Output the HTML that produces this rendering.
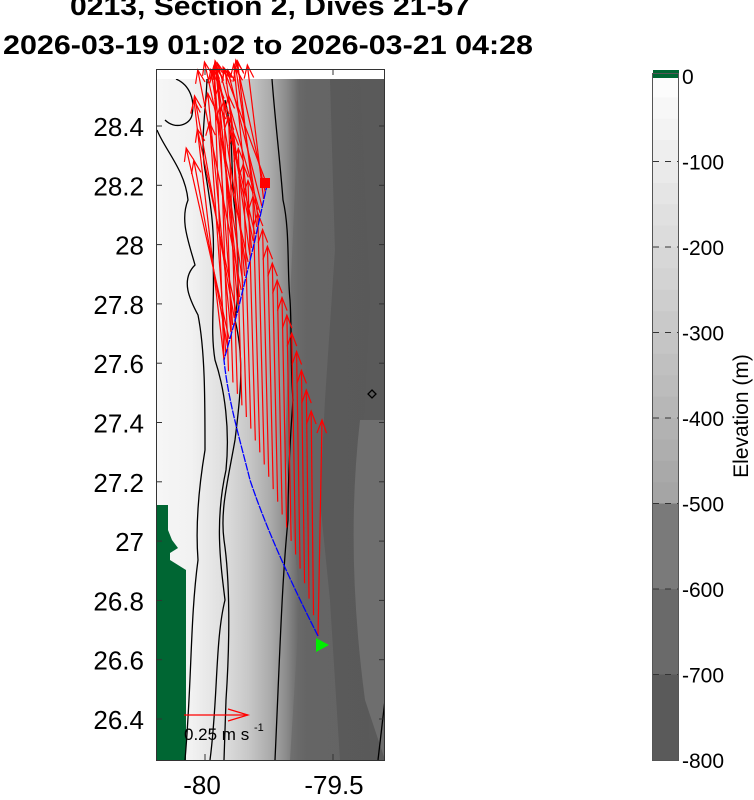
<!DOCTYPE html>
<html><head><style>
body{margin:0;background:#fff;}
svg{display:block;font-family:"Liberation Sans",sans-serif;}
</style></head><body>
<svg id="s" width="754" height="800" viewBox="0 0 754 800" xmlns="http://www.w3.org/2000/svg">
<defs>
<linearGradient id="bg" x1="0" x2="1" y1="0" y2="0">
<stop offset="0" stop-color="#f6f6f6"/>
<stop offset="0.15" stop-color="#f2f2f2"/>
<stop offset="0.28" stop-color="#e0e0e0"/>
<stop offset="0.4" stop-color="#c8c8c8"/>
<stop offset="0.5" stop-color="#aaaaaa"/>
<stop offset="0.57" stop-color="#8a8a8a"/>
<stop offset="0.62" stop-color="#6a6a6a"/>
<stop offset="0.66" stop-color="#5a5a5a"/>
<stop offset="1" stop-color="#595959"/>
</linearGradient>
<clipPath id="cp"><rect x="157" y="79" width="228" height="681"/></clipPath>
</defs>
<text x="270" y="15" font-size="27" font-weight="bold" text-anchor="middle" textLength="400" lengthAdjust="spacingAndGlyphs">0213, Section 2, Dives 21-57</text>
<text x="268" y="54" font-size="27" font-weight="bold" text-anchor="middle" textLength="530" lengthAdjust="spacingAndGlyphs">2026-03-19 01:02 to 2026-03-21 04:28</text>
<g clip-path="url(#cp)">
<rect x="157" y="79" width="228" height="681" fill="url(#bg)"/>
<path d="M300,79 L330,79 335,250 325,400 320,500 330,600 340,760 290,760 300,600 285,450 290,300 Z" fill="#6a6a6a" opacity="0.7"/>
<path d="M360,79 L385,79 385,760 370,760 360,500 370,300 Z" fill="#5a5a5a"/>
<path d="M360,420 Q345,550 365,700 L385,760 385,420 Z" fill="#6e6e6e"/>
<path d="M157,505 L168,505 168,530 172,540 178,548 170,553 170,560 186,570 186,760 157,760Z" fill="#006633"/>
<g fill="none" stroke="#000" stroke-width="1.3">
<path d="M176,79 C190,85 195,100 192,115 C190,125 175,130 165,120 157,110"/>
<path d="M157,130 C165,150 185,170 188,200 C180,220 188,240 195,265 C180,280 190,300 198,315 C205,350 205,400 205,450 C200,480 195,520 198,560 C190,620 192,680 185,760"/>
<path d="M207,79 C206,110 200,140 205,170 C210,200 215,230 213,260 C215,300 210,330 215,360 C225,390 230,430 226,470 C215,520 220,560 225,600 C215,640 218,700 210,760"/>
<path d="M225,100 C235,140 230,180 235,210 C238,250 240,290 235,320 C245,360 240,400 235,440 C228,480 220,510 224,540 C230,580 230,640 226,700 L224,760"/>
<path d="M272,79 C275,120 280,160 283,200 C290,230 287,270 290,300 C292,330 290,360 293,400 C290,440 288,480 288,520 C282,580 280,650 275,760"/>
<path d="M372,390 l4,4 -4,4 -4,-4 Z"/>
<path d="M385,700 L378,760"/>
</g>
</g>
<g id="vec" stroke="#f00" stroke-width="1.2" fill="none"></g>
<path d="M318,636 C300,600 270,540 250,480 C240,440 228,400 224,360 L238,310 L255,240 L267,185" stroke="#00f" stroke-width="1.3" fill="none" stroke-dasharray="8,1"/>
<rect x="260" y="178" width="10" height="10" fill="#f00"/>
<polygon points="316,638 316,652 329,645" fill="#00ee00"/>
<line x1="184" y1="715" x2="248" y2="715" stroke="#f00" stroke-width="1.2"/>
<path d="M228,709 L248,715 228,721" stroke="#f00" fill="none" stroke-width="1.2"/>
<text x="184" y="740" font-size="17">0.25 m s</text>
<text x="254" y="731" font-size="11">-1</text>
<rect x="156.5" y="69.5" width="228" height="691" fill="none" stroke="#333" stroke-width="1"/>
<g stroke="#333" stroke-width="1">
<line x1="205" y1="70" x2="205" y2="75"/><line x1="333" y1="70" x2="333" y2="75"/>
<line x1="205" y1="760" x2="205" y2="754"/><line x1="333" y1="760" x2="333" y2="754"/>
</g>
<g id="yt" font-size="26" text-anchor="end"></g>
<text x="202" y="794" font-size="26" text-anchor="middle">-80</text>
<text x="334" y="794" font-size="26" text-anchor="middle">-79.5</text>
<g id="cb"></g>
<rect x="652.5" y="73.5" width="26" height="687" fill="none" stroke="#555"/>
<text transform="translate(748,416) rotate(-90)" font-size="21" text-anchor="middle">Elevation (m)</text>
</svg>
<script>
var NS="http://www.w3.org/2000/svg";
function el(p,t,a,txt){var e=document.createElementNS(NS,t);for(var k in a)e.setAttribute(k,a[k]);if(txt)e.textContent=txt;document.getElementById(p).appendChild(e);return e;}
var labs=["28.4","28.2","28","27.8","27.6","27.4","27.2","27","26.8","26.6","26.4"];
for(var i=0;i<11;i++){var y=126+i*59.3;el("yt","text",{x:144,y:y+10},labs[i]);
el("yt","line",{x1:157,y1:y,x2:162,y2:y,stroke:"#333"});el("yt","line",{x1:384,y1:y,x2:379,y2:y,stroke:"#333"});}
var cT=76,cB=760,hh=(cB-cT)/800;
for(var i=0;i<20;i++){var c=Math.round(252-i*4.6);el("cb","rect",{x:653,y:cT+i*25*hh,width:26,height:25*hh+1,fill:"rgb("+c+","+c+","+c+")"});}
el("cb","rect",{x:653,y:cT+500*hh,width:26,height:100*hh,fill:"#7a7a7a"});
el("cb","rect",{x:653,y:cT+600*hh,width:26,height:100*hh,fill:"#6a6a6a"});
el("cb","rect",{x:653,y:cT+700*hh,width:26,height:100*hh,fill:"#5a5a5a"});
el("cb","rect",{x:653,y:70,width:26,height:8,fill:"#006633"});
for(var i=0;i<=8;i++){var y=cT+i*100*hh;el("cb","text",{x:682,y:y+8,"font-size":21},i?"-"+i*100:"0");
if(i>0&&i<8)el("cb","line",{x1:653,y1:y,x2:679,y2:y,stroke:"#333","stroke-dasharray":"6,6"});}
function arrow(x1,y1,x2,y2){el("vec","line",{x1:x1,y1:y1,x2:x2,y2:y2});
var a=Math.atan2(y2-y1,x2-x1),L=14;
el("vec","path",{d:"M"+(x2-L*Math.cos(a-0.35))+","+(y2-L*Math.sin(a-0.35))+" L"+x2+","+y2+" L"+(x2-L*Math.cos(a+0.35))+","+(y2-L*Math.sin(a+0.35))});}
var N=22;
for(var i=0;i<N;i++){var t=i/(N-1);
var x=318+(224-318)*t, y=636+(360-636)*Math.pow(t,0.85);
var ex=x-10+(1-t)*8, ey=y-260+(1-t)*60-t*30;
if(i==0){ex=322;ey=420;}
arrow(x,y,ex,Math.max(ey,60));}
for(var i=0;i<26;i++){var t=i/25;
var x=224+(267-224)*t,y=360+(185-360)*t;
var ex=x-30+Math.sin(i*1.7)*14, ey=y-220-Math.cos(i*1.3)*40;
if(ey<60)ey=60+((i*7)%12);
arrow(x,y,ex,ey);}
</script>
</body></html>
